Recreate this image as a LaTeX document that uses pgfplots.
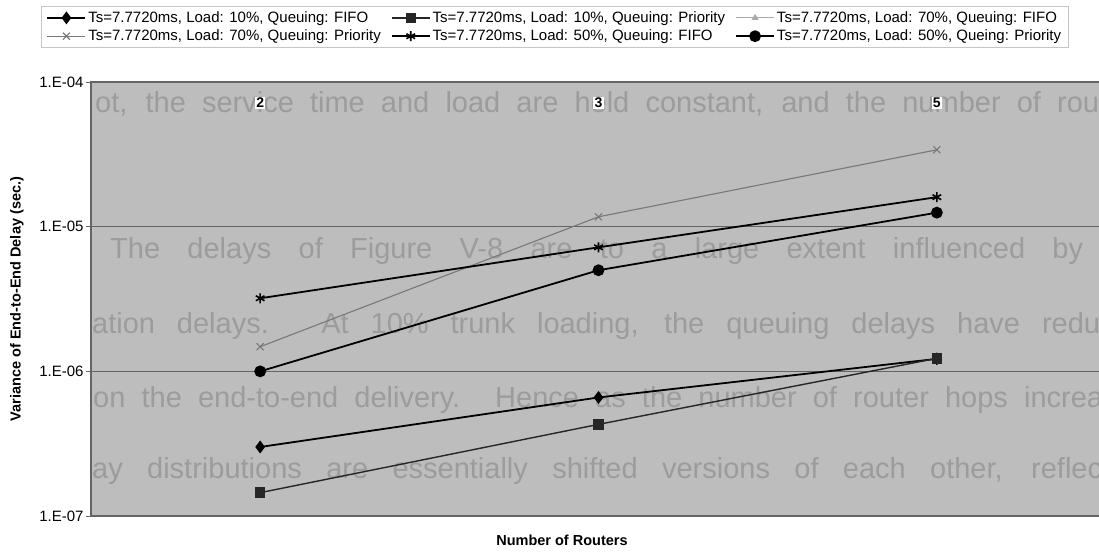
\documentclass[border=0pt]{standalone}
\usepackage{fontspec}
\setmainfont{Liberation Sans}
\usepackage{pgfplots}
\pgfplotsset{compat=1.18}
\usetikzlibrary{plotmarks}
\definecolor{bggray}{RGB}{189,189,189}
\definecolor{bleed}{RGB}{156,156,156}
\definecolor{gridgray}{RGB}{100,100,100}
\definecolor{sergray}{RGB}{120,120,120}
\definecolor{trigray}{RGB}{170,170,170}
\newcommand{\bleedline}[4]{\node[anchor=base west, inner sep=0pt, text=bleed, font=\fontsize{29}{30}\selectfont] at ([xshift=#1pt,yshift=#2pt]path picture bounding box.south west) {\makebox[#3pt][s]{#4}};}
\begin{document}
\begin{tikzpicture}
\useasboundingbox (0pt,0pt) rectangle (1099pt,555pt);
\begin{axis}[
  scale only axis, width=1015pt, height=434pt,
  at={(91pt,39pt)}, anchor=south west,
  xmin=-0.5, xmax=2.5,
  ymode=log, ymin=1e-7, ymax=1e-4,
  axis background/.style={fill=bggray, path picture={
    \bleedline{4}{404}{1004}{ot, the service time and load are held constant, and the number of rou}
    \bleedline{19}{258}{973}{The delays of Figure V-8 are to a large extent influenced by}
    \bleedline{1}{183}{1008}{ation delays.  At 10\% trunk loading, the queuing delays have redu}
    \bleedline{2}{109}{1010}{on the end-to-end delivery.  Hence as the number of router hops increa}
    \bleedline{1}{38}{1010}{ay distributions are essentially shifted versions of each other, reflec}
  }},
  axis line style={gridgray, line width=1.4pt},
  ymajorgrids, major grid style={gridgray, line width=1.2pt},
  xtick={0,1,2}, xticklabels={2,3,5},
  xticklabel pos=upper,
  x tick style={draw=none},
  xticklabel style={anchor=center, yshift=-26pt, fill=white, inner sep=1.2pt, font=\bfseries\fontsize{14}{15}\selectfont},
  ytick={1e-7,1e-6,1e-5,1e-4},
  yticklabels={\textrm{1.E-07},\textrm{1.E-06},\textrm{1.E-05},\textrm{1.E-04}},
  ytick pos=left, tick align=outside, major tick length=5pt,
  y tick style={gridgray, line width=1pt},
  yticklabel style={font=\fontsize{15}{16}\selectfont, xshift=1pt},
  yminorticks=false,
  /pgf/number format/assume math mode=true,
  ylabel={\bfseries Variance of End-to-End Delay (sec.)},
  ylabel style={at={(axis description cs:-0.0729,0.5)}, anchor=center, font=\fontsize{14.5}{16}\selectfont},
  xlabel={\bfseries Number of Routers},
  xlabel style={at={(axis description cs:0.464,-0.0553)}, anchor=center, font=\fontsize{14.5}{16}\selectfont},
  legend columns=3,
  legend cell align=left,
  legend style={at={(0.457,1.1267)}, anchor=center, draw=gray!45, fill=white,
    font=\fontsize{15}{17}\selectfont, inner xsep=5pt, inner ysep=3pt, row sep=2pt,
    /tikz/every even column/.append style={column sep=8pt}},
  legend image code/.code={\draw[mark repeat=2,mark phase=2] plot coordinates {(0pt,0pt)(19pt,0pt)(38pt,0pt)};},
]
\addplot[black, line width=1.8pt, mark=diamond*, mark size=5pt] coordinates {(0,3.0e-7) (1,6.6e-7) (2,1.22e-6)};
\addlegendentry{Ts=7.7720ms, Load: 10\%, Queuing: FIFO}
\addplot[black!85, line width=1.4pt, mark=square*, mark size=4.5pt] coordinates {(0,1.45e-7) (1,4.3e-7) (2,1.23e-6)};
\addlegendentry{Ts=7.7720ms, Load: 10\%, Queuing: Priority}
\addlegendimage{trigray, line width=1pt, mark=triangle*, mark size=3pt}
\addlegendentry{Ts=7.7720ms, Load: 70\%, Queuing: FIFO}
\addplot[sergray, line width=1.1pt, mark=x, mark size=5pt] coordinates {(0,1.48e-6) (1,1.17e-5) (2,3.4e-5)};
\addlegendentry{Ts=7.7720ms, Load: 70\%, Queuing: Priority}
\addplot[black, line width=1.8pt, mark=asterisk, mark size=5pt, mark options={line width=1.6pt}] coordinates {(0,3.2e-6) (1,7.2e-6) (2,1.6e-5)};
\addlegendentry{Ts=7.7720ms, Load: 50\%, Queuing: FIFO}
\addplot[black, line width=1.8pt, mark=*, mark size=5pt] coordinates {(0,1.0e-6) (1,5.0e-6) (2,1.25e-5)};
\addlegendentry{Ts=7.7720ms, Load: 50\%, Queing: Priority}
\end{axis}
\end{tikzpicture}
\end{document}
